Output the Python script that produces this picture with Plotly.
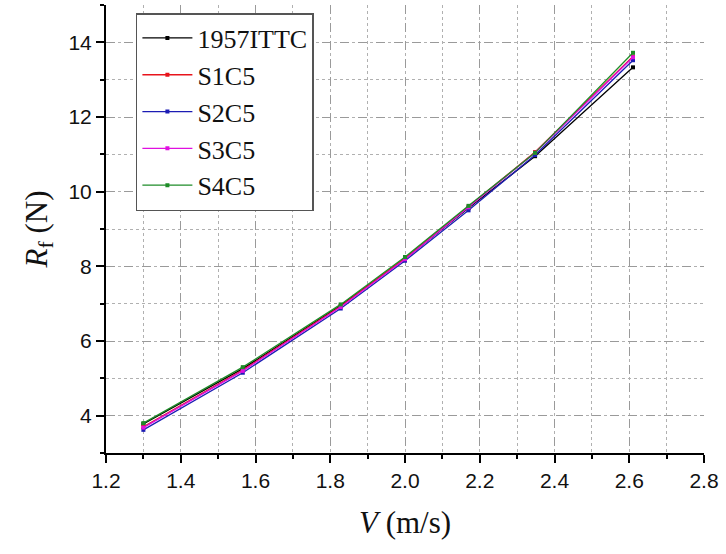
import plotly.graph_objects as go

# Ship speed (m/s)
speed = [1.30, 1.566, 1.828, 2.0, 2.17, 2.348, 2.61]

# Frictional resistance Rf (N) for each method / scheme
ittc_1957 = [3.78, 5.26, 6.95, 8.20, 9.56, 10.95, 13.33]
s1c5 = [3.70, 5.22, 6.93, 8.22, 9.60, 11.06, 13.62]
s2c5 = [3.62, 5.15, 6.87, 8.15, 9.50, 10.98, 13.52]
s3c5 = [3.68, 5.20, 6.91, 8.19, 9.58, 11.04, 13.60]
s4c5 = [3.80, 5.30, 6.98, 8.25, 9.62, 11.04, 13.72]

series_names = ["1957ITTC", "S1C5", "S2C5", "S3C5", "S4C5"]
series_values = [ittc_1957, s1c5, s2c5, s3c5, s4c5]
series_colors = ["#000000", "#e8141c", "#1c1cb4", "#e010e0", "#1e8c28"]

x_ticks = [1.2, 1.4, 1.6, 1.8, 2.0, 2.2, 2.4, 2.6, 2.8]
y_ticks = [4, 6, 8, 10, 12, 14]

fig = go.Figure()
for name, vals, col in zip(series_names, series_values, series_colors):
    fig.add_trace(go.Scatter(
        x=speed, y=vals, name=name, mode="lines+markers",
        line=dict(color=col, width=1.3),
        marker=dict(symbol="square", size=4, color=col),
    ))

grid_style = dict(showgrid=True, gridcolor="#9a9a9a", griddash="dash", gridwidth=1)
minor_style = dict(ticks="outside", ticklen=4, tickcolor="black", tickwidth=1.5,
                   showgrid=True, gridcolor="#b0b0b0", griddash="dot", gridwidth=1)

fig.update_xaxes(
    range=[1.2, 2.8], tickvals=x_ticks, ticktext=[f"{v:.1f}" for v in x_ticks],
    ticks="outside", ticklen=8, tickwidth=1.5, tickcolor="black",
    showline=True, linecolor="black", linewidth=2, zeroline=False,
    minor=dict(dtick=0.1, **minor_style),
    tickfont=dict(family="Liberation Sans, Arial", size=21, color="#111"),
    title=dict(text="<i>V</i> (m/s)", font=dict(family="Liberation Serif, Times New Roman", size=31, color="#111"), standoff=20),
    **grid_style,
)
fig.update_yaxes(
    range=[3, 15], tickvals=y_ticks, ticktext=[str(v) for v in y_ticks],
    ticks="outside", ticklen=8, tickwidth=1.5, tickcolor="black",
    showline=True, linecolor="black", linewidth=2, zeroline=False,
    minor=dict(dtick=1, **minor_style),
    tickfont=dict(family="Liberation Sans, Arial", size=21, color="#111"),
    title=dict(text="<i>R</i><sub>f</sub> (N)", font=dict(family="Liberation Serif, Times New Roman", size=31, color="#111"), standoff=12),
    **grid_style,
)

fig.update_layout(
    width=726, height=554,
    margin=dict(l=106, r=22, t=5, b=101),
    plot_bgcolor="white", paper_bgcolor="white",
    showlegend=True,
    legend=dict(
        x=0.05, y=0.982, xanchor="left", yanchor="top",
        bgcolor="white", bordercolor="#555", borderwidth=1.5,
        font=dict(family="Liberation Serif, Times New Roman", size=26, color="#111"),
        itemwidth=50, tracegroupgap=0,
    ),
)

fig.write_html("out.html")
